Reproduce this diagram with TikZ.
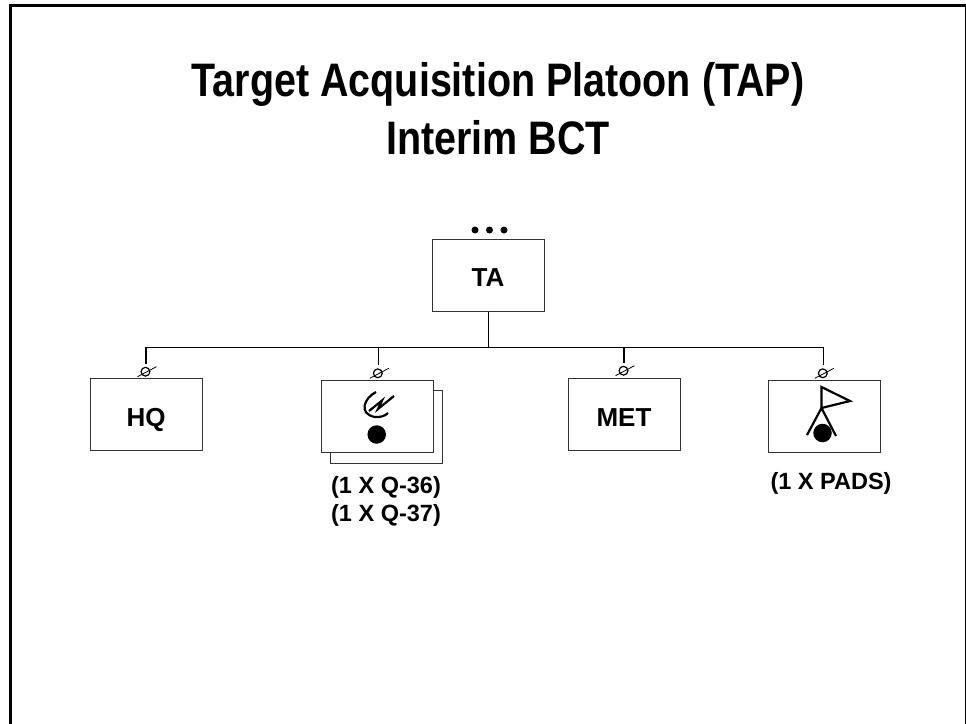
\documentclass[tikz,border=0pt]{standalone}
\usepackage{fontspec}
\setmainfont{Liberation Sans}
\newfontfamily\headfont[FakeStretch=0.84]{Liberation Sans}
\usetikzlibrary{calc,positioning}
\tikzset{
  unit/.style={draw=black!80,line width=1pt,fill=white,minimum width=112pt,minimum height=72pt,inner sep=0pt,text=black,text height=23pt,text depth=0pt,font=\fontsize{26}{26}\bfseries},
  link/.style={line width=1pt},
  dot/.style={circle,fill,inner sep=0pt},
  note/.style={font=\fontsize{23.5}{28}\bfseries,align=center,inner sep=0pt},
  headline/.style={font=\headfont\fontsize{47}{58}\bfseries,align=center,inner sep=0pt},
  tick/.style={line width=1.2pt},
  symbol/.style={line width=2.2pt}
}
\begin{document}
\begin{tikzpicture}[x=1pt,y=-1pt]
  \useasboundingbox (0,0) rectangle (966,723);
  \draw[line width=3pt] (10.5,730)--(10.5,5.5)--(966.8,5.5)--(966.8,730);
  \node[headline] (title) at (498,109) {Target Acquisition Platoon (TAP)\\Interim BCT};

  \node[unit] (ta) at (488,275) {TA};
  \foreach \px in {475,489.5,504}
    \node[dot,minimum size=7pt] at (\px,230) {};
  \node[unit] (hq) at (146,414.5) {HQ};
  \draw[draw=black!80,line width=1pt,fill=white] (330.3,390.7) rectangle (442.3,463.3);
  \node[unit] (radar) at (377,416.3) {};
  \node[unit] (met) at (624,414.5) {MET};
  \node[unit] (pads) at (824.3,416.3) {};

  % bus and drops
  \coordinate (bus) at (ta.south |- 0,347);
  \draw[link] (ta.south)--(bus);
  \foreach \nm/\px/\py in {hq/146/371.7,radar/378.3/373.3,met/624/370.7,pads/823.3/373.3}{
    \coordinate (top-\nm) at (\px,347);
    \coordinate (end-\nm) at (\px,\py-8);
    \draw[link,line width=1.3pt] (top-\nm)--(end-\nm);
    \draw[tick] (\px-0.5,\py) circle (4.4pt);
    \draw[tick,line width=0.8pt] (\px-8.5,\py+5)--(\px+10.5,\py-5);
  }
  \draw[link] (top-hq)--(top-pads);

  % radar mark
  \draw[symbol] (376,392) .. controls (364,398) and (358,414) .. (375,417)
    .. controls (380,417.5) and (385,416) .. (388,413);
  \draw[symbol,line join=miter] (394,396)--(378,409)--(382,400.5)--(369,411);
  \node[dot,minimum size=18.5pt] (radardot) at (376.7,434.5) {};

  % survey mark
  \draw[symbol,line join=miter] (821.5,408)--(821.5,387)--(850,401)--(821.5,408);
  \draw[symbol] (807,435)--(821.5,408)--(836,436);
  \node[dot,minimum size=18.5pt] (padsdot) at (822.5,433) {};

  \node[note] (radarnote) at (386,501) {(1 X Q-36)\\(1 X Q-37)};
  \node[note] (padsnote) at (831,483) {(1 X PADS)};
\end{tikzpicture}
\end{document}
